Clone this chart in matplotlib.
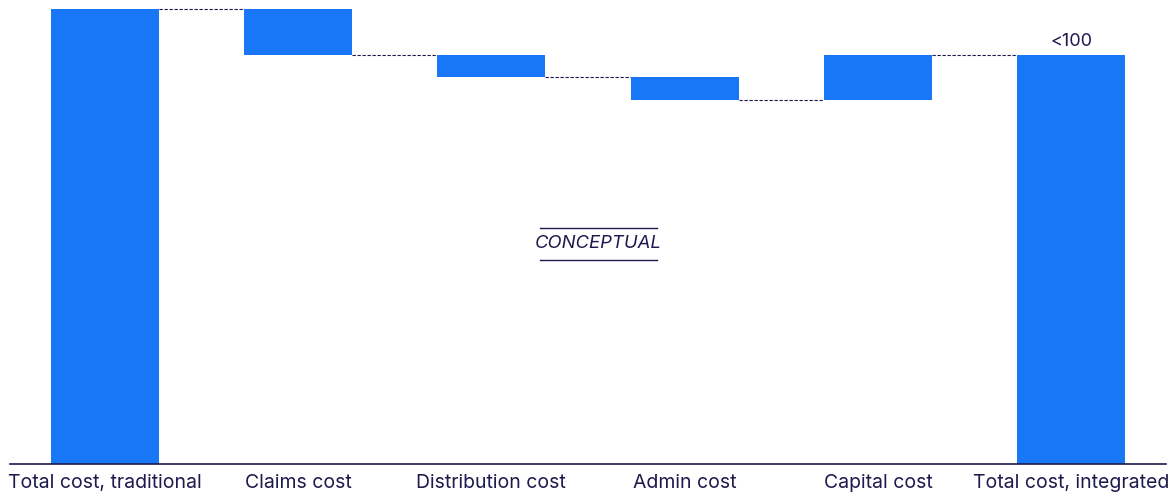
import matplotlib
matplotlib.use("Agg")
import matplotlib.pyplot as plt

categories = ["Total cost, traditional", "Claims cost", "Distribution cost",
              "Admin cost", "Capital cost", "Total cost, integrated"]
changes = [100, -10, -5, -5, 10, None]  # None = total
total_label = "<100"

BLUE = "#1877F6"
NAVY = "#1E1A4D"

plt.rcParams['font.family'] = ['Inter', 'DejaVu Sans']

fig = plt.figure(figsize=(11.74, 4.94), dpi=100)
ax = fig.add_axes([10/1174, 30/494, 1156/1174, 464/494])

bottoms, heights, ends = [], [], []
running = 0
for i, c in enumerate(changes):
    if i == 0:
        bottoms.append(0); heights.append(c); running = c
    elif c is None:
        bottoms.append(0); heights.append(running)
    else:
        lo = min(running, running + c)
        bottoms.append(lo); heights.append(abs(c)); running += c
    ends.append(running)

x = list(range(len(categories)))
w = 0.56
ax.bar(x, heights, bottom=bottoms, width=w, color=BLUE, zorder=2)

for i in range(len(categories) - 1):
    ax.plot([x[i] + w/2, x[i+1] - w/2], [ends[i], ends[i]], color=NAVY,
            lw=0.8, ls=(0, (3, 1.5)), zorder=1)

ax.text(x[-1], ends[-1] + 1.1, total_label, ha='center', va='bottom',
        fontsize=13, color=NAVY)

ax.set_xlim(-0.49, 5.49)
ax.set_ylim(0, 102)
for s in ['top', 'right', 'left']:
    ax.spines[s].set_visible(False)
ax.spines['bottom'].set_color(NAVY)
ax.spines['bottom'].set_linewidth(1.2)
ax.set_yticks([])
ax.set_xticks(x)
ax.set_xticklabels(categories, fontsize=14, color=NAVY)
ax.tick_params(axis='x', length=0, pad=7.5)

# CONCEPTUAL stamp
cx = 2.554
ax.text(cx, 48.5, "CONCEPTUAL", ha='center', va='center', fontsize=13.3,
        style='italic', color=NAVY)
ax.plot([cx - 0.303, cx + 0.303], [51.9, 51.9], color=NAVY, lw=1)
ax.plot([cx - 0.303, cx + 0.303], [44.8, 44.8], color=NAVY, lw=1)

fig.savefig("out.png", dpi=100)
